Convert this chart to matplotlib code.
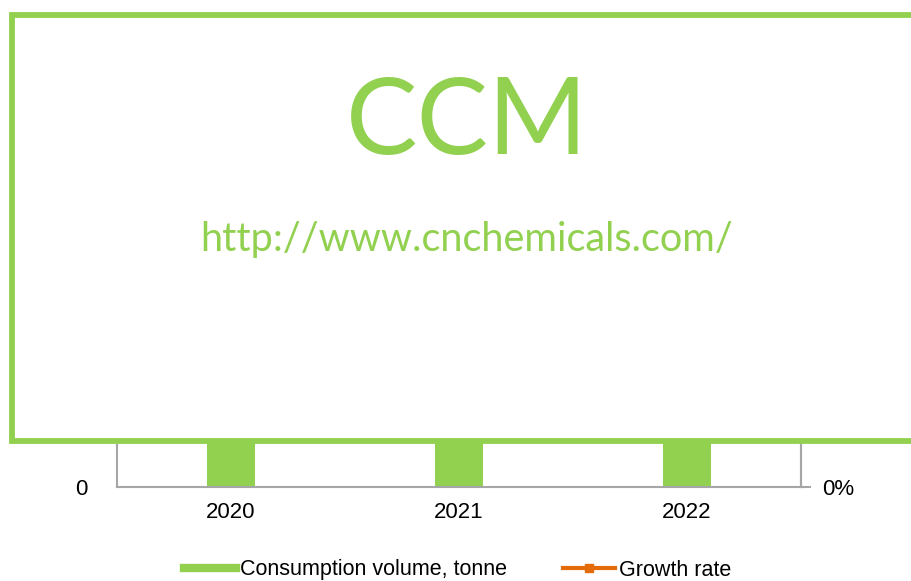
import matplotlib.pyplot as plt
import numpy as np
from matplotlib.patches import Rectangle
from matplotlib.lines import Line2D

# -----------------------
# Data
# -----------------------
years = ["2020", "2021", "2022"]
consumption = [1150, 1220, 1300]          # tonne (upper part hidden by overlay)
growth = [np.nan, 0.061, 0.066]           # growth rate (hidden by overlay)

green = "#92D050"
orange = "#E36C09"
grey = "#A6A6A6"

plt.rcParams["font.family"] = ["Liberation Sans", "DejaVu Sans"]

fig = plt.figure(figsize=(9.12, 5.81), dpi=100)
ax = fig.add_axes([117 / 912, 1 - 487 / 581, 684 / 912, 457 / 581])

x = np.arange(len(years))
ax.bar(x, consumption, width=0.21, color=green, zorder=2)
ax.set_xlim(-0.5, len(years) - 0.5)
ax.set_ylim(0, 1400)
ax.set_yticks(np.arange(0, 1401, 200))
ax.set_xticks(x)
ax.set_xticklabels(years, fontsize=16)
ax.tick_params(axis="x", length=0, pad=11)
ax.tick_params(axis="y", length=0, pad=21, labelsize=16)

ax.spines["top"].set_visible(False)
for side in ["left", "right", "bottom"]:
    ax.spines[side].set_color(grey)
    ax.spines[side].set_linewidth(1.5)

ax2 = ax.twinx()
ax2.plot(x, growth, color=orange, marker="s", lw=2.5, ms=5)
ax2.set_ylim(0, 0.08)
ax2.set_yticks(np.arange(0, 0.081, 0.02))
ax2.set_yticklabels([f"{v:.0%}" for v in np.arange(0, 0.081, 0.02)])
ax2.tick_params(axis="y", length=7, width=1.5, color=grey, pad=8, labelsize=16)
for side in ["top", "left", "bottom"]:
    ax2.spines[side].set_visible(False)
ax2.spines["right"].set_color(grey)
ax2.spines["right"].set_linewidth(1.5)

# -----------------------
# Legend
# -----------------------
handles = [
    Line2D([], [], color=green, lw=6),
    Line2D([], [], color=orange, lw=3, marker="s", ms=6),
]
fig.legend(handles, ["Consumption volume, tonne", "Growth rate"],
           loc="center", bbox_to_anchor=(458 / 912, 1 - 570 / 581),
           ncol=2, frameon=False, fontsize=15.5, handlelength=2.4,
           handletextpad=0.2, columnspacing=2.6)

# -----------------------
# Watermark overlay
# -----------------------
box = Rectangle((12 / 912, 1 - 441 / 581), 1.0, (441 - 15) / 581,
                transform=fig.transFigure, facecolor="white",
                edgecolor=green, lw=4.2, zorder=10, clip_on=False)
fig.patches.append(box)
fig.text(467 / 912, 1 - 124 / 581, "CCM", color=green, fontsize=77,
         family=["Lato", "DejaVu Sans"], ha="center", va="center", zorder=11)
fig.text(467 / 912, 1 - 239 / 581, "http://www.cnchemicals.com/", color=green,
         fontsize=28.5, family=["Lato", "DejaVu Sans"], ha="center",
         va="center", zorder=11)

fig.savefig("out.png", dpi=100)
